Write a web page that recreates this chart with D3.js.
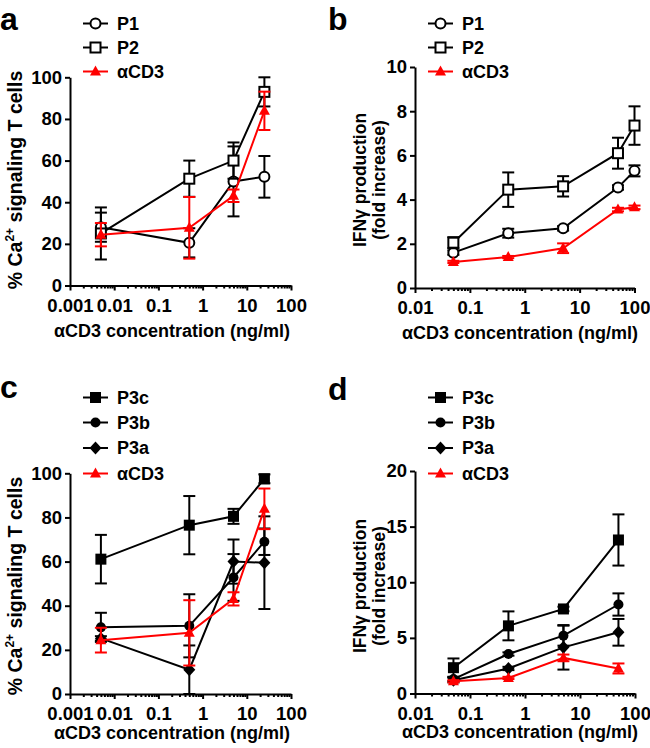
<!DOCTYPE html>
<html><head><meta charset="utf-8">
<script src="https://cdnjs.cloudflare.com/ajax/libs/d3/7.8.5/d3.min.js"></script>
<style>
body{margin:0;background:#fff;}
svg text{font-family:"Liberation Sans",Arial,sans-serif;font-weight:bold;fill:#000;}
</style></head>
<body><svg id="chart" width="650" height="748"></svg>
<script>
// ---------- DATA ----------
const concCa = [0.005, 0.5, 5, 25];
const concIfnB = [0.05, 0.5, 5, 50, 100];
const concIfnD = [0.05, 0.5, 5, 50];

const aP1 = [28, 20.5, 50, 52.2];      const aP1Err = [7, 7, 16.8, 10];
const aP2 = [25, 51.3, 60, 93];        const aP2Err = [12.5, 8.7, 8.7, 7];
const aCD3 = [24.4, 27.7, 43.1, 83.9]; const aCD3Err = [5.6, 14.8, 3, 9.2];

const bP1 = [1.6, 2.48, 2.7, 4.55, 5.3];   const bP1Err = [0.1, 0.2, 0.1, 0.1, 0.25];
const bP2 = [2.05, 4.45, 4.6, 6.1, 7.35];  const bP2Err = [0.25, 0.78, 0.46, 0.7, 0.87];
const bCD3 = [1.18, 1.4, 1.8, 3.55, 3.65]; const bCD3Err = [0.05, 0.05, 0.22, 0.08, 0.08];

const cP3c = [61.1, 76.5, 80.5, 97.5]; const cP3cErr = [11, 13.2, 3.4, 2];
const cP3b = [30.2, 30.9, 52.8, 69];   const cP3bErr = [6.6, 14.3, 10.6, 6];
const cP3a = [25.2, 11, 60, 59.5];     const cP3aErr = [1, 11, 10, 21];
const cCD3 = [24.4, 27.7, 43.1, 83.9]; const cCD3Err = [5.6, 14.8, 3, 9.2];

const dP3c = [2.32, 6.08, 7.6, 13.8];  const dP3cErr = [0.83, 1.3, 0.2, 2.3];
const dP3b = [1.3, 3.55, 5.2, 8.0];    const dP3bErr = [0.2, 0.15, 0.9, 1.0];
const dP3a = [1.2, 2.25, 4.15, 5.5];   const dP3aErr = [0.2, 0.15, 2.0, 1.2];
const dCD3 = [1.1, 1.4, 3.2, 2.25];    const dCD3Err = [0.1, 0.1, 0.3, 0.45];

const xTicksCa = [0.001, 0.01, 0.1, 1, 10, 100];
const xTicksIfn = [0.01, 0.1, 1, 10, 100];
const yTicksCa = [0, 20, 40, 60, 80, 100];
const yTicksB = [0, 2, 4, 6, 8, 10];
const yTicksD = [0, 5, 10, 15, 20];
const xTitle = "αCD3 concentration (ng/ml)";

// ---------- DRAW ----------
const svg = d3.select("#chart");
const RED = "#ff0000";

function marker(g, type, x, y, color) {
  const sw = 2;
  if (type === "circleOpen") g.append("circle").attr("cx", x).attr("cy", y).attr("r", 5).attr("fill", "#fff").attr("stroke", color).attr("stroke-width", sw);
  else if (type === "circle") g.append("circle").attr("cx", x).attr("cy", y).attr("r", 5).attr("fill", color);
  else if (type === "squareOpen") g.append("rect").attr("x", x - 5).attr("y", y - 5).attr("width", 10).attr("height", 10).attr("fill", "#fff").attr("stroke", color).attr("stroke-width", sw);
  else if (type === "square") g.append("rect").attr("x", x - 5.5).attr("y", y - 5.5).attr("width", 11).attr("height", 11).attr("fill", color);
  else if (type === "diamond") g.append("path").attr("d", `M${x},${y-6.5}L${x+6},${y}L${x},${y+6.5}L${x-6},${y}Z`).attr("fill", color);
  else if (type === "triangle") g.append("path").attr("d", `M${x},${y-6}L${x+5.5},${y+4}L${x-5.5},${y+4}Z`).attr("fill", color);
}

function panel(cfg) {
  const g = svg.append("g");
  const x = d3.scaleLog().domain(cfg.xDomain).range(cfg.xRange);
  const y = d3.scaleLinear().domain(cfg.yDomain).range(cfg.yRange);

  const minors = [];
  const d0 = Math.round(Math.log10(cfg.xDomain[0])), d1 = Math.round(Math.log10(cfg.xDomain[1]));
  for (let e = d0; e < d1; e++) for (let m = 2; m <= 9; m++) minors.push(m * Math.pow(10, e));
  const minorAxis = g.append("g").attr("transform", `translate(0,${cfg.yRange[0]})`)
    .call(d3.axisBottom(x).tickValues(minors).tickSize(3).tickSizeOuter(0).tickFormat(""));
  const xAxis = g.append("g").attr("transform", `translate(0,${cfg.yRange[0]})`)
    .call(d3.axisBottom(x).tickValues(cfg.xTicks).tickSize(5).tickSizeOuter(0).tickPadding(8)
      .tickFormat(d => (d >= 1 ? d3.format("d")(d) : String(d))));
  const yAxis = g.append("g").attr("transform", `translate(${cfg.xRange[0]},0)`)
    .call(d3.axisLeft(y).tickValues(cfg.yTicks).tickSize(5).tickSizeOuter(0).tickPadding(3));
  [minorAxis, xAxis, yAxis].forEach(a => {
    a.selectAll("path,line").attr("stroke", "#000").attr("stroke-width", 2);
    a.selectAll("text").style("font-size", "18.5px").attr("fill", "#000");
  });
  minorAxis.select(".domain").attr("stroke-width", 0);

  cfg.series.forEach(s => {
    const sg = g.append("g");
    const pts = cfg.conc.map((c, i) => ({ x: x(c), y: y(s.v[i]), lo: y(s.v[i] - s.e[i]), hi: y(s.v[i] + s.e[i]) }));
    pts.forEach(p => {
      sg.append("line").attr("x1", p.x).attr("x2", p.x).attr("y1", p.lo).attr("y2", p.hi).attr("stroke", s.color).attr("stroke-width", 2);
      [p.lo, p.hi].forEach(yy => sg.append("line").attr("x1", p.x - 6).attr("x2", p.x + 6).attr("y1", yy).attr("y2", yy).attr("stroke", s.color).attr("stroke-width", 2));
    });
    sg.append("path").attr("d", d3.line().x(p => p.x).y(p => p.y)(pts)).attr("fill", "none").attr("stroke", s.color).attr("stroke-width", 2);
    pts.forEach(p => marker(sg, s.marker, p.x, p.y, s.color));
  });

  cfg.series.forEach((s, i) => {
    const ly = cfg.legendY[i];
    g.append("line").attr("x1", cfg.legendX).attr("x2", cfg.legendX + 25).attr("y1", ly).attr("y2", ly).attr("stroke", s.color).attr("stroke-width", 2);
    marker(g, s.marker, cfg.legendX + 12.5, ly, s.color);
    g.append("text").attr("x", cfg.legendX + 34).attr("y", ly).attr("dy", "0.36em").style("font-size", "18px").text(s.name);
  });

  g.append("text").attr("x", cfg.letterPos[0]).attr("y", cfg.letterPos[1]).style("font-size", "32px").text(cfg.letter);
  g.append("text").attr("x", cfg.xTitlePos[0]).attr("y", cfg.xTitlePos[1]).attr("text-anchor", "middle").style("font-size", "18px").text(xTitle);
  cfg.yTitle(g);
}

function caTitle(xb, yc) {
  return g => {
    const t = g.append("text").attr("transform", `translate(${xb},${yc}) rotate(-90)`).attr("text-anchor", "middle").style("font-size", "19.5px");
    t.append("tspan").text("% Ca");
    t.append("tspan").attr("dy", -8).style("font-size", "12px").text("2+");
    t.append("tspan").attr("dy", 8).text(" signaling T cells");
  };
}
function ifnTitle(xb1, xb2, yc) {
  return g => {
    g.append("text").attr("transform", `translate(${xb1},${yc}) rotate(-90)`).attr("text-anchor", "middle").style("font-size", "17.5px").text("IFNγ production");
    g.append("text").attr("transform", `translate(${xb2},${yc}) rotate(-90)`).attr("text-anchor", "middle").style("font-size", "17.5px").text("(fold increase)");
  };
}

panel({
  letter: "a", letterPos: [0, 30],
  xDomain: [0.001, 100], xRange: [70, 291], yDomain: [0, 100], yRange: [285.5, 77.3],
  xTicks: xTicksCa, yTicks: yTicksCa, conc: concCa,
  series: [
    { name: "P1", v: aP1, e: aP1Err, color: "#000", marker: "circleOpen" },
    { name: "P2", v: aP2, e: aP2Err, color: "#000", marker: "squareOpen" },
    { name: "αCD3", v: aCD3, e: aCD3Err, color: RED, marker: "triangle" }
  ],
  legendX: 83, legendY: [23.5, 47.5, 71.5],
  xTitlePos: [172, 337], yTitle: caTitle(22, 180)
});
panel({
  letter: "b", letterPos: [328, 30],
  xDomain: [0.01, 100], xRange: [415, 634.5], yDomain: [0, 10], yRange: [288, 67],
  xTicks: xTicksIfn, yTicks: yTicksB, conc: concIfnB,
  series: [
    { name: "P1", v: bP1, e: bP1Err, color: "#000", marker: "circleOpen" },
    { name: "P2", v: bP2, e: bP2Err, color: "#000", marker: "squareOpen" },
    { name: "αCD3", v: bCD3, e: bCD3Err, color: RED, marker: "triangle" }
  ],
  legendX: 428, legendY: [23.5, 47.5, 71.5],
  xTitlePos: [520, 339], yTitle: ifnTitle(366, 385, 180)
});
panel({
  letter: "c", letterPos: [0, 398],
  xDomain: [0.001, 100], xRange: [70, 291], yDomain: [0, 100], yRange: [694, 473.3],
  xTicks: xTicksCa, yTicks: yTicksCa, conc: concCa,
  series: [
    { name: "P3c", v: cP3c, e: cP3cErr, color: "#000", marker: "square" },
    { name: "P3b", v: cP3b, e: cP3bErr, color: "#000", marker: "circle" },
    { name: "P3a", v: cP3a, e: cP3aErr, color: "#000", marker: "diamond" },
    { name: "αCD3", v: cCD3, e: cCD3Err, color: RED, marker: "triangle" }
  ],
  legendX: 83, legendY: [397.5, 422.5, 448, 473.5],
  xTitlePos: [172, 739], yTitle: caTitle(22, 586)
});
panel({
  letter: "d", letterPos: [328, 400],
  xDomain: [0.01, 100], xRange: [415, 635], yDomain: [0, 20], yRange: [693.5, 471],
  xTicks: xTicksIfn, yTicks: yTicksD, conc: concIfnD,
  series: [
    { name: "P3c", v: dP3c, e: dP3cErr, color: "#000", marker: "square" },
    { name: "P3b", v: dP3b, e: dP3bErr, color: "#000", marker: "circle" },
    { name: "P3a", v: dP3a, e: dP3aErr, color: "#000", marker: "diamond" },
    { name: "αCD3", v: dCD3, e: dCD3Err, color: RED, marker: "triangle" }
  ],
  legendX: 428, legendY: [397.5, 422.5, 448, 473.5],
  xTitlePos: [520, 738], yTitle: ifnTitle(366, 385, 586)
});
</script></body></html>
